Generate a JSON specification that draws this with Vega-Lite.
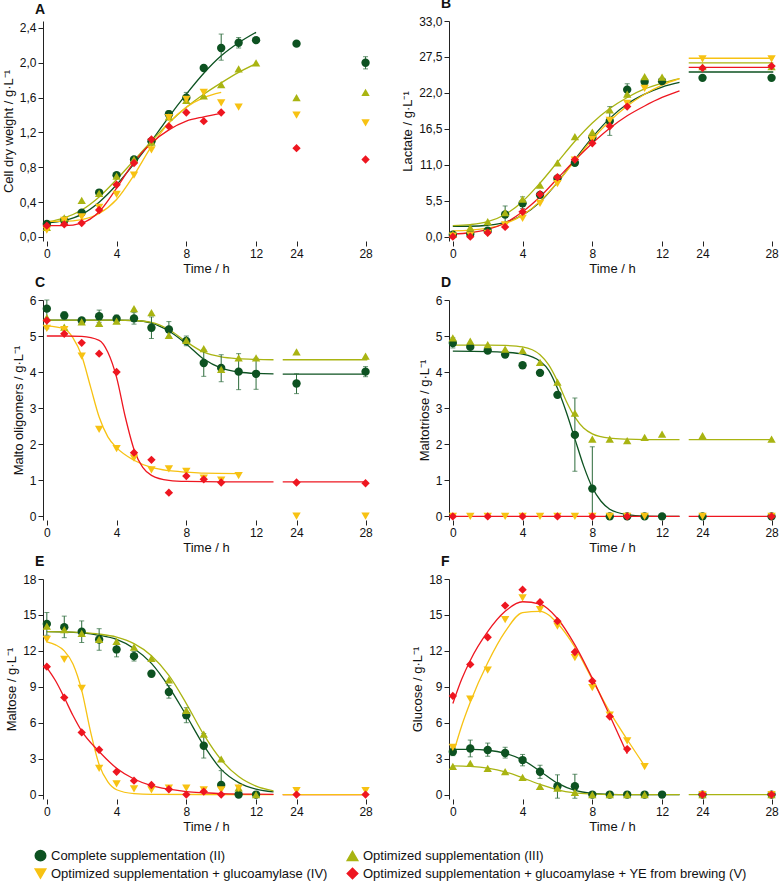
{
"$schema": "https://vega.github.io/schema/vega-lite/v6.json",
"padding": {"left": 2, "top": -3, "right": 0, "bottom": 0},
"config": {
  "font": "Liberation Sans",
  "view": {"stroke": null},
  "range": {"category": ["#0D5221", "#A9B412", "#F7C213", "#EE1620"], "symbol": ["circle", "triangle-up", "triangle-down", "diamond"]},
  "axis": {"domainColor": "#222", "tickColor": "#222", "labelColor": "#111", "titleColor": "#111", "labelFontSize": 12, "titleFontSize": 13, "titleFontWeight": "normal", "grid": false, "tickSize": 5},
  "axisX": {"titlePadding": 3},
  "legend": {"orient": "bottom", "offset": 16, "layout": {"bottom": {"anchor": "middle"}}, "direction": "horizontal", "columns": 2, "labelFontSize": 13, "labelLimit": 0, "symbolSize": 110, "columnPadding": 16, "rowPadding": 1, "labelColor": "#111"},
  "title": {"fontSize": 14, "fontWeight": "bold", "anchor": "start", "color": "#111", "dx": -8, "frame": "group", "offset": 0}
},
"datasets": {
"pts": [
{"p":"A","s":"II","t":0,"v":0.15},{"p":"A","s":"II","t":1,"v":0.19},{"p":"A","s":"II","t":2,"v":0.28},{"p":"A","s":"II","t":3,"v":0.51},{"p":"A","s":"II","t":4,"v":0.71},{"p":"A","s":"II","t":5,"v":0.89},{"p":"A","s":"II","t":6,"v":1.10},{"p":"A","s":"II","t":7,"v":1.41},{"p":"A","s":"II","t":8,"v":1.60},{"p":"A","s":"II","t":9,"v":1.94},{"p":"A","s":"II","t":10,"v":2.17},{"p":"A","s":"II","t":11,"v":2.23},{"p":"A","s":"II","t":12,"v":2.26},{"p":"A","s":"II","t":24,"v":2.22},{"p":"A","s":"II","t":28,"v":2.00},
{"p":"A","s":"III","t":0,"v":0.11},{"p":"A","s":"III","t":1,"v":0.22},{"p":"A","s":"III","t":2,"v":0.42},{"p":"A","s":"III","t":3,"v":0.50},{"p":"A","s":"III","t":4,"v":0.70},{"p":"A","s":"III","t":5,"v":0.89},{"p":"A","s":"III","t":6,"v":1.09},{"p":"A","s":"III","t":7,"v":1.38},{"p":"A","s":"III","t":8,"v":1.57},{"p":"A","s":"III","t":9,"v":1.62},{"p":"A","s":"III","t":10,"v":1.75},{"p":"A","s":"III","t":11,"v":1.93},{"p":"A","s":"III","t":12,"v":2.00},{"p":"A","s":"III","t":24,"v":1.60},{"p":"A","s":"III","t":28,"v":1.66},
{"p":"A","s":"IV","t":0,"v":0.08},{"p":"A","s":"IV","t":1,"v":0.19},{"p":"A","s":"IV","t":2,"v":0.23},{"p":"A","s":"IV","t":3,"v":0.34},{"p":"A","s":"IV","t":4,"v":0.49},{"p":"A","s":"IV","t":5,"v":0.71},{"p":"A","s":"IV","t":6,"v":1.00},{"p":"A","s":"IV","t":7,"v":1.37},{"p":"A","s":"IV","t":8,"v":1.58},{"p":"A","s":"IV","t":9,"v":1.66},{"p":"A","s":"IV","t":10,"v":1.54},{"p":"A","s":"IV","t":11,"v":1.49},{"p":"A","s":"IV","t":24,"v":1.40},{"p":"A","s":"IV","t":28,"v":1.31},
{"p":"A","s":"V","t":0,"v":0.13},{"p":"A","s":"V","t":1,"v":0.145},{"p":"A","s":"V","t":2,"v":0.16},{"p":"A","s":"V","t":3,"v":0.31},{"p":"A","s":"V","t":4,"v":0.60},{"p":"A","s":"V","t":5,"v":0.85},{"p":"A","s":"V","t":6,"v":1.12},{"p":"A","s":"V","t":7,"v":1.27},{"p":"A","s":"V","t":8,"v":1.43},{"p":"A","s":"V","t":9,"v":1.33},{"p":"A","s":"V","t":10,"v":1.43},{"p":"A","s":"V","t":24,"v":1.02},{"p":"A","s":"V","t":28,"v":0.89},
{"p":"B","s":"II","t":0,"v":0.3},{"p":"B","s":"II","t":1,"v":0.4},{"p":"B","s":"II","t":2,"v":0.9},{"p":"B","s":"II","t":3,"v":3.4},{"p":"B","s":"II","t":4,"v":5.1},{"p":"B","s":"II","t":5,"v":6.4},{"p":"B","s":"II","t":6,"v":8.9},{"p":"B","s":"II","t":7,"v":11.3},{"p":"B","s":"II","t":8,"v":15.2},{"p":"B","s":"II","t":9,"v":17.7},{"p":"B","s":"II","t":10,"v":22.5},{"p":"B","s":"II","t":11,"v":23.7},{"p":"B","s":"II","t":12,"v":23.8},{"p":"B","s":"II","t":24,"v":24.3},{"p":"B","s":"II","t":28,"v":24.3},
{"p":"B","s":"III","t":0,"v":0.4},{"p":"B","s":"III","t":1,"v":1.4},{"p":"B","s":"III","t":2,"v":2.3},{"p":"B","s":"III","t":3,"v":3.7},{"p":"B","s":"III","t":4,"v":5.75},{"p":"B","s":"III","t":5,"v":7.9},{"p":"B","s":"III","t":6,"v":11.3},{"p":"B","s":"III","t":7,"v":15.3},{"p":"B","s":"III","t":8,"v":16.0},{"p":"B","s":"III","t":9,"v":19.4},{"p":"B","s":"III","t":10,"v":21.8},{"p":"B","s":"III","t":11,"v":24.5},{"p":"B","s":"III","t":12,"v":24.4},{"p":"B","s":"III","t":24,"v":26.0},{"p":"B","s":"III","t":28,"v":26.0},
{"p":"B","s":"IV","t":0,"v":0.1},{"p":"B","s":"IV","t":1,"v":0.25},{"p":"B","s":"IV","t":2,"v":0.5},{"p":"B","s":"IV","t":3,"v":1.8},{"p":"B","s":"IV","t":4,"v":2.8},{"p":"B","s":"IV","t":5,"v":5.1},{"p":"B","s":"IV","t":6,"v":8.1},{"p":"B","s":"IV","t":7,"v":11.7},{"p":"B","s":"IV","t":8,"v":14.9},{"p":"B","s":"IV","t":9,"v":17.8},{"p":"B","s":"IV","t":10,"v":20.4},{"p":"B","s":"IV","t":11,"v":22.7},{"p":"B","s":"IV","t":24,"v":27.2},{"p":"B","s":"IV","t":28,"v":27.2},
{"p":"B","s":"V","t":0,"v":0.0},{"p":"B","s":"V","t":1,"v":0.0},{"p":"B","s":"V","t":2,"v":0.6},{"p":"B","s":"V","t":3,"v":1.5},{"p":"B","s":"V","t":4,"v":3.8},{"p":"B","s":"V","t":5,"v":6.5},{"p":"B","s":"V","t":6,"v":9.1},{"p":"B","s":"V","t":7,"v":11.8},{"p":"B","s":"V","t":8,"v":14.3},{"p":"B","s":"V","t":9,"v":16.9},{"p":"B","s":"V","t":10,"v":19.9},{"p":"B","s":"V","t":24,"v":25.8},{"p":"B","s":"V","t":28,"v":26.1},
{"p":"C","s":"II","t":0,"v":5.76},{"p":"C","s":"II","t":1,"v":5.57},{"p":"C","s":"II","t":2,"v":5.43},{"p":"C","s":"II","t":3,"v":5.55},{"p":"C","s":"II","t":4,"v":5.48},{"p":"C","s":"II","t":5,"v":5.49},{"p":"C","s":"II","t":6,"v":5.23},{"p":"C","s":"II","t":7,"v":5.18},{"p":"C","s":"II","t":8,"v":4.86},{"p":"C","s":"II","t":9,"v":4.25},{"p":"C","s":"II","t":10,"v":4.11},{"p":"C","s":"II","t":11,"v":4.01},{"p":"C","s":"II","t":12,"v":3.95},{"p":"C","s":"II","t":24,"v":3.68},{"p":"C","s":"II","t":28,"v":4.01},
{"p":"C","s":"III","t":0,"v":5.51},{"p":"C","s":"III","t":1,"v":5.25},{"p":"C","s":"III","t":2,"v":5.39},{"p":"C","s":"III","t":3,"v":5.35},{"p":"C","s":"III","t":4,"v":5.41},{"p":"C","s":"III","t":5,"v":5.76},{"p":"C","s":"III","t":6,"v":5.65},{"p":"C","s":"III","t":7,"v":5.02},{"p":"C","s":"III","t":8,"v":4.88},{"p":"C","s":"III","t":9,"v":4.65},{"p":"C","s":"III","t":10,"v":4.07},{"p":"C","s":"III","t":11,"v":4.39},{"p":"C","s":"III","t":12,"v":4.39},{"p":"C","s":"III","t":24,"v":4.56},{"p":"C","s":"III","t":28,"v":4.44},
{"p":"C","s":"IV","t":0,"v":5.21},{"p":"C","s":"IV","t":1,"v":5.18},{"p":"C","s":"IV","t":2,"v":4.44},{"p":"C","s":"IV","t":3,"v":2.41},{"p":"C","s":"IV","t":4,"v":1.87},{"p":"C","s":"IV","t":5,"v":1.61},{"p":"C","s":"IV","t":6,"v":1.28},{"p":"C","s":"IV","t":7,"v":1.31},{"p":"C","s":"IV","t":8,"v":1.24},{"p":"C","s":"IV","t":9,"v":1.05},{"p":"C","s":"IV","t":10,"v":1.0},{"p":"C","s":"IV","t":11,"v":1.12},{"p":"C","s":"IV","t":24,"v":0.0},{"p":"C","s":"IV","t":28,"v":0.0},
{"p":"C","s":"V","t":0,"v":5.43},{"p":"C","s":"V","t":1,"v":5.06},{"p":"C","s":"V","t":2,"v":4.81},{"p":"C","s":"V","t":3,"v":4.51},{"p":"C","s":"V","t":4,"v":4.0},{"p":"C","s":"V","t":5,"v":1.76},{"p":"C","s":"V","t":6,"v":1.56},{"p":"C","s":"V","t":7,"v":0.65},{"p":"C","s":"V","t":8,"v":1.11},{"p":"C","s":"V","t":9,"v":1.02},{"p":"C","s":"V","t":10,"v":0.93},{"p":"C","s":"V","t":24,"v":0.93},{"p":"C","s":"V","t":28,"v":0.91},
{"p":"D","s":"II","t":0,"v":4.81},{"p":"D","s":"II","t":1,"v":4.70},{"p":"D","s":"II","t":2,"v":4.60},{"p":"D","s":"II","t":3,"v":4.49},{"p":"D","s":"II","t":4,"v":4.19},{"p":"D","s":"II","t":5,"v":3.98},{"p":"D","s":"II","t":6,"v":3.37},{"p":"D","s":"II","t":7,"v":2.26},{"p":"D","s":"II","t":8,"v":0.77},{"p":"D","s":"II","t":9,"v":0},{"p":"D","s":"II","t":10,"v":0},{"p":"D","s":"II","t":11,"v":0},{"p":"D","s":"II","t":12,"v":0},{"p":"D","s":"II","t":24,"v":0},{"p":"D","s":"II","t":28,"v":0},
{"p":"D","s":"III","t":0,"v":4.95},{"p":"D","s":"III","t":1,"v":4.86},{"p":"D","s":"III","t":2,"v":4.76},{"p":"D","s":"III","t":3,"v":4.64},{"p":"D","s":"III","t":4,"v":4.60},{"p":"D","s":"III","t":5,"v":4.27},{"p":"D","s":"III","t":6,"v":3.72},{"p":"D","s":"III","t":7,"v":2.86},{"p":"D","s":"III","t":8,"v":2.14},{"p":"D","s":"III","t":9,"v":2.14},{"p":"D","s":"III","t":10,"v":2.10},{"p":"D","s":"III","t":11,"v":2.19},{"p":"D","s":"III","t":12,"v":2.28},{"p":"D","s":"III","t":24,"v":2.24},{"p":"D","s":"III","t":28,"v":2.14},
{"p":"D","s":"IV","t":0,"v":0},{"p":"D","s":"IV","t":1,"v":0},{"p":"D","s":"IV","t":2,"v":0},{"p":"D","s":"IV","t":3,"v":0},{"p":"D","s":"IV","t":4,"v":0},{"p":"D","s":"IV","t":5,"v":0},{"p":"D","s":"IV","t":6,"v":0},{"p":"D","s":"IV","t":7,"v":0},{"p":"D","s":"IV","t":8,"v":0},{"p":"D","s":"IV","t":9,"v":0},{"p":"D","s":"IV","t":10,"v":0},{"p":"D","s":"IV","t":11,"v":0},{"p":"D","s":"IV","t":24,"v":0},{"p":"D","s":"IV","t":28,"v":0},
{"p":"D","s":"V","t":0,"v":0},{"p":"D","s":"V","t":2,"v":0},{"p":"D","s":"V","t":4,"v":0},{"p":"D","s":"V","t":6,"v":0},{"p":"D","s":"V","t":8,"v":0},{"p":"D","s":"V","t":10,"v":0},{"p":"D","s":"V","t":28,"v":0},
{"p":"E","s":"II","t":0,"v":14.25},{"p":"E","s":"II","t":1,"v":13.98},{"p":"E","s":"II","t":2,"v":13.6},{"p":"E","s":"II","t":3,"v":12.95},{"p":"E","s":"II","t":4,"v":12.12},{"p":"E","s":"II","t":5,"v":11.56},{"p":"E","s":"II","t":6,"v":10.09},{"p":"E","s":"II","t":7,"v":8.57},{"p":"E","s":"II","t":8,"v":6.63},{"p":"E","s":"II","t":9,"v":4.08},{"p":"E","s":"II","t":10,"v":0.8},{"p":"E","s":"II","t":11,"v":0},{"p":"E","s":"II","t":12,"v":0},
{"p":"E","s":"III","t":0,"v":14.06},{"p":"E","s":"III","t":1,"v":13.78},{"p":"E","s":"III","t":2,"v":13.45},{"p":"E","s":"III","t":3,"v":12.95},{"p":"E","s":"III","t":4,"v":12.8},{"p":"E","s":"III","t":5,"v":12.31},{"p":"E","s":"III","t":6,"v":11.37},{"p":"E","s":"III","t":7,"v":9.57},{"p":"E","s":"III","t":8,"v":7.04},{"p":"E","s":"III","t":9,"v":5.05},{"p":"E","s":"III","t":10,"v":2.97},{"p":"E","s":"III","t":11,"v":0.55},{"p":"E","s":"III","t":12,"v":0},
{"p":"E","s":"IV","t":0,"v":12.95},{"p":"E","s":"IV","t":1,"v":11.29},{"p":"E","s":"IV","t":2,"v":8.87},{"p":"E","s":"IV","t":3,"v":2.19},{"p":"E","s":"IV","t":4,"v":0.89},{"p":"E","s":"IV","t":5,"v":0.47},{"p":"E","s":"IV","t":6,"v":0.39},{"p":"E","s":"IV","t":7,"v":0.53},{"p":"E","s":"IV","t":8,"v":0.53},{"p":"E","s":"IV","t":9,"v":0.39},{"p":"E","s":"IV","t":10,"v":0.39},{"p":"E","s":"IV","t":11,"v":0.53},{"p":"E","s":"IV","t":24,"v":0.33},{"p":"E","s":"IV","t":28,"v":0.33},
{"p":"E","s":"V","t":0,"v":10.68},{"p":"E","s":"V","t":1,"v":8.1},{"p":"E","s":"V","t":2,"v":5.19},{"p":"E","s":"V","t":3,"v":3.74},{"p":"E","s":"V","t":4,"v":1.91},{"p":"E","s":"V","t":5,"v":1.16},{"p":"E","s":"V","t":6,"v":0.8},{"p":"E","s":"V","t":7,"v":0.44},{"p":"E","s":"V","t":8,"v":0},{"p":"E","s":"V","t":9,"v":0.25},{"p":"E","s":"V","t":10,"v":0},{"p":"E","s":"V","t":24,"v":0},{"p":"E","s":"V","t":28,"v":0},
{"p":"F","s":"II","t":0,"v":3.58},{"p":"F","s":"II","t":1,"v":3.85},{"p":"F","s":"II","t":2,"v":3.72},{"p":"F","s":"II","t":3,"v":3.47},{"p":"F","s":"II","t":4,"v":2.88},{"p":"F","s":"II","t":5,"v":1.91},{"p":"F","s":"II","t":6,"v":0.69},{"p":"F","s":"II","t":7,"v":0.69},{"p":"F","s":"II","t":8,"v":0},{"p":"F","s":"II","t":9,"v":0},{"p":"F","s":"II","t":10,"v":0},{"p":"F","s":"II","t":11,"v":0},{"p":"F","s":"II","t":12,"v":0},{"p":"F","s":"II","t":24,"v":0},{"p":"F","s":"II","t":28,"v":0},
{"p":"F","s":"III","t":0,"v":2.36},{"p":"F","s":"III","t":1,"v":2.61},{"p":"F","s":"III","t":2,"v":2.19},{"p":"F","s":"III","t":3,"v":1.91},{"p":"F","s":"III","t":4,"v":1.44},{"p":"F","s":"III","t":5,"v":0.69},{"p":"F","s":"III","t":6,"v":0.53},{"p":"F","s":"III","t":7,"v":0.19},{"p":"F","s":"III","t":8,"v":0},{"p":"F","s":"III","t":9,"v":0},{"p":"F","s":"III","t":10,"v":0},{"p":"F","s":"III","t":11,"v":0},{"p":"F","s":"III","t":24,"v":0},{"p":"F","s":"III","t":28,"v":0},
{"p":"F","s":"IV","t":0,"v":3.94},{"p":"F","s":"IV","t":1,"v":7.96},{"p":"F","s":"IV","t":2,"v":10.4},{"p":"F","s":"IV","t":3,"v":14.61},{"p":"F","s":"IV","t":4,"v":16.42},{"p":"F","s":"IV","t":5,"v":15.45},{"p":"F","s":"IV","t":6,"v":14.06},{"p":"F","s":"IV","t":7,"v":11.43},{"p":"F","s":"IV","t":8,"v":8.93},{"p":"F","s":"IV","t":9,"v":6.63},{"p":"F","s":"IV","t":10,"v":4.49},{"p":"F","s":"IV","t":11,"v":2.33},{"p":"F","s":"IV","t":24,"v":0},{"p":"F","s":"IV","t":28,"v":0},
{"p":"F","s":"V","t":0,"v":8.24},{"p":"F","s":"V","t":1,"v":10.87},{"p":"F","s":"V","t":2,"v":13.14},{"p":"F","s":"V","t":3,"v":15.78},{"p":"F","s":"V","t":4,"v":17.11},{"p":"F","s":"V","t":5,"v":16.06},{"p":"F","s":"V","t":6,"v":14.48},{"p":"F","s":"V","t":7,"v":11.9},{"p":"F","s":"V","t":8,"v":9.48},{"p":"F","s":"V","t":9,"v":6.52},{"p":"F","s":"V","t":10,"v":3.8},{"p":"F","s":"V","t":24,"v":0},{"p":"F","s":"V","t":28,"v":0}
],
"err": [
{"p":"A","t":7,"lo":1.37,"hi":1.45},{"p":"A","t":8,"lo":1.55,"hi":1.66},{"p":"A","t":10,"lo":2.03,"hi":2.33},{"p":"A","t":11,"lo":2.17,"hi":2.29},{"p":"A","t":28,"lo":1.93,"hi":2.07},
{"p":"B","t":3,"lo":2.1,"hi":4.7},{"p":"B","t":4,"lo":4.3,"hi":6.1},{"p":"B","t":9,"lo":15.5,"hi":19.9},{"p":"B","t":10,"lo":21.7,"hi":23.4},{"p":"B","t":11,"lo":23.2,"hi":24.2},
{"p":"C","t":0,"lo":5.2,"hi":6.0},{"p":"C","t":1,"lo":5.47,"hi":5.67},{"p":"C","t":3,"lo":5.38,"hi":5.72},{"p":"C","t":4,"lo":5.38,"hi":5.58},{"p":"C","t":5,"lo":5.33,"hi":5.65},{"p":"C","t":6,"lo":4.93,"hi":5.53},{"p":"C","t":7,"lo":4.98,"hi":5.40},{"p":"C","t":8,"lo":4.73,"hi":5.0},{"p":"C","t":9,"lo":3.88,"hi":4.62},{"p":"C","t":10,"lo":3.73,"hi":4.48},{"p":"C","t":11,"lo":3.51,"hi":4.51},{"p":"C","t":12,"lo":3.52,"hi":4.38},{"p":"C","t":24,"lo":3.4,"hi":3.95},{"p":"C","t":28,"lo":3.87,"hi":4.15},
{"p":"D","t":0,"lo":4.67,"hi":4.95},{"p":"D","t":7,"lo":1.25,"hi":3.28},{"p":"D","t":8,"lo":0,"hi":1.93},
{"p":"E","t":0,"lo":13.3,"hi":15.2},{"p":"E","t":1,"lo":13.1,"hi":14.9},{"p":"E","t":2,"lo":12.7,"hi":14.5},{"p":"E","t":3,"lo":12.05,"hi":13.85},{"p":"E","t":4,"lo":11.5,"hi":12.7},{"p":"E","t":5,"lo":11.15,"hi":11.95},{"p":"E","t":6,"lo":9.85,"hi":10.35},{"p":"E","t":7,"lo":8.05,"hi":9.1},{"p":"E","t":8,"lo":6.0,"hi":7.25},{"p":"E","t":9,"lo":3.05,"hi":5.1},{"p":"E","t":10,"lo":0,"hi":2.0},
{"p":"F","t":0,"lo":3.25,"hi":3.9},{"p":"F","t":1,"lo":3.15,"hi":4.55},{"p":"F","t":2,"lo":3.2,"hi":4.3},{"p":"F","t":3,"lo":3.05,"hi":3.95},{"p":"F","t":4,"lo":2.4,"hi":3.35},{"p":"F","t":5,"lo":1.35,"hi":2.45},{"p":"F","t":6,"lo":-0.3,"hi":1.65},{"p":"F","t":7,"lo":-0.3,"hi":1.7}
],
"fit": [
{"p":"A","s":"II","g":"L","t":0,"v":0.16},{"p":"A","s":"II","g":"L","t":1,"v":0.19},{"p":"A","s":"II","g":"L","t":2,"v":0.26},{"p":"A","s":"II","g":"L","t":3,"v":0.40},{"p":"A","s":"II","g":"L","t":4,"v":0.60},{"p":"A","s":"II","g":"L","t":5,"v":0.84},{"p":"A","s":"II","g":"L","t":6,"v":1.10},{"p":"A","s":"II","g":"L","t":7,"v":1.38},{"p":"A","s":"II","g":"L","t":8,"v":1.64},{"p":"A","s":"II","g":"L","t":9,"v":1.88},{"p":"A","s":"II","g":"L","t":10,"v":2.08},{"p":"A","s":"II","g":"L","t":11,"v":2.23},{"p":"A","s":"II","g":"L","t":12,"v":2.35},
{"p":"A","s":"III","g":"L","t":0,"v":0.17},{"p":"A","s":"III","g":"L","t":1,"v":0.22},{"p":"A","s":"III","g":"L","t":2,"v":0.31},{"p":"A","s":"III","g":"L","t":3,"v":0.46},{"p":"A","s":"III","g":"L","t":4,"v":0.66},{"p":"A","s":"III","g":"L","t":5,"v":0.88},{"p":"A","s":"III","g":"L","t":6,"v":1.10},{"p":"A","s":"III","g":"L","t":7,"v":1.31},{"p":"A","s":"III","g":"L","t":8,"v":1.49},{"p":"A","s":"III","g":"L","t":9,"v":1.64},{"p":"A","s":"III","g":"L","t":10,"v":1.77},{"p":"A","s":"III","g":"L","t":11,"v":1.89},{"p":"A","s":"III","g":"L","t":12,"v":1.99},
{"p":"A","s":"IV","g":"L","t":0,"v":0.18},{"p":"A","s":"IV","g":"L","t":1,"v":0.18},{"p":"A","s":"IV","g":"L","t":2,"v":0.20},{"p":"A","s":"IV","g":"L","t":3,"v":0.27},{"p":"A","s":"IV","g":"L","t":4,"v":0.43},{"p":"A","s":"IV","g":"L","t":5,"v":0.71},{"p":"A","s":"IV","g":"L","t":6,"v":1.04},{"p":"A","s":"IV","g":"L","t":7,"v":1.31},{"p":"A","s":"IV","g":"L","t":8,"v":1.49},{"p":"A","s":"IV","g":"L","t":9,"v":1.60},{"p":"A","s":"IV","g":"L","t":10,"v":1.66},
{"p":"A","s":"V","g":"L","t":0,"v":0.13},{"p":"A","s":"V","g":"L","t":1,"v":0.13},{"p":"A","s":"V","g":"L","t":2,"v":0.16},{"p":"A","s":"V","g":"L","t":3,"v":0.29},{"p":"A","s":"V","g":"L","t":4,"v":0.56},{"p":"A","s":"V","g":"L","t":5,"v":0.86},{"p":"A","s":"V","g":"L","t":6,"v":1.08},{"p":"A","s":"V","g":"L","t":7,"v":1.23},{"p":"A","s":"V","g":"L","t":8,"v":1.33},{"p":"A","s":"V","g":"L","t":9,"v":1.38},{"p":"A","s":"V","g":"L","t":10,"v":1.42},
{"p":"B","s":"II","g":"L","t":0,"v":1.6},{"p":"B","s":"II","g":"L","t":1,"v":1.6},{"p":"B","s":"II","g":"L","t":2,"v":1.75},{"p":"B","s":"II","g":"L","t":3,"v":2.2},{"p":"B","s":"II","g":"L","t":4,"v":3.3},{"p":"B","s":"II","g":"L","t":5,"v":5.3},{"p":"B","s":"II","g":"L","t":6,"v":8.3},{"p":"B","s":"II","g":"L","t":7,"v":11.8},{"p":"B","s":"II","g":"L","t":8,"v":15.2},{"p":"B","s":"II","g":"L","t":9,"v":18.1},{"p":"B","s":"II","g":"L","t":10,"v":20.3},{"p":"B","s":"II","g":"L","t":11,"v":21.8},{"p":"B","s":"II","g":"L","t":12,"v":22.9},{"p":"B","s":"II","g":"L","t":13,"v":23.6},
{"p":"B","s":"III","g":"L","t":0,"v":1.7},{"p":"B","s":"III","g":"L","t":1,"v":1.85},{"p":"B","s":"III","g":"L","t":2,"v":2.3},{"p":"B","s":"III","g":"L","t":3,"v":3.4},{"p":"B","s":"III","g":"L","t":4,"v":5.4},{"p":"B","s":"III","g":"L","t":5,"v":8.2},{"p":"B","s":"III","g":"L","t":6,"v":11.4},{"p":"B","s":"III","g":"L","t":7,"v":14.6},{"p":"B","s":"III","g":"L","t":8,"v":17.4},{"p":"B","s":"III","g":"L","t":9,"v":19.6},{"p":"B","s":"III","g":"L","t":10,"v":21.3},{"p":"B","s":"III","g":"L","t":11,"v":22.6},{"p":"B","s":"III","g":"L","t":12,"v":23.5},{"p":"B","s":"III","g":"L","t":13,"v":24.2},
{"p":"B","s":"IV","g":"L","t":0,"v":0.9},{"p":"B","s":"IV","g":"L","t":1,"v":1.0},{"p":"B","s":"IV","g":"L","t":2,"v":1.3},{"p":"B","s":"IV","g":"L","t":3,"v":2.0},{"p":"B","s":"IV","g":"L","t":4,"v":3.3},{"p":"B","s":"IV","g":"L","t":5,"v":5.4},{"p":"B","s":"IV","g":"L","t":6,"v":8.3},{"p":"B","s":"IV","g":"L","t":7,"v":11.6},{"p":"B","s":"IV","g":"L","t":8,"v":14.9},{"p":"B","s":"IV","g":"L","t":9,"v":17.7},{"p":"B","s":"IV","g":"L","t":10,"v":20.0},{"p":"B","s":"IV","g":"L","t":11,"v":21.8},{"p":"B","s":"IV","g":"L","t":12,"v":23.2},{"p":"B","s":"IV","g":"L","t":13,"v":24.2},
{"p":"B","s":"V","g":"L","t":0,"v":0.4},{"p":"B","s":"V","g":"L","t":1,"v":0.6},{"p":"B","s":"V","g":"L","t":2,"v":1.1},{"p":"B","s":"V","g":"L","t":3,"v":2.1},{"p":"B","s":"V","g":"L","t":4,"v":3.8},{"p":"B","s":"V","g":"L","t":5,"v":6.1},{"p":"B","s":"V","g":"L","t":6,"v":8.9},{"p":"B","s":"V","g":"L","t":7,"v":11.7},{"p":"B","s":"V","g":"L","t":8,"v":14.3},{"p":"B","s":"V","g":"L","t":9,"v":16.6},{"p":"B","s":"V","g":"L","t":10,"v":18.5},{"p":"B","s":"V","g":"L","t":11,"v":20.0},{"p":"B","s":"V","g":"L","t":12,"v":21.3},{"p":"B","s":"V","g":"L","t":13,"v":22.3},
{"p":"B","s":"II","g":"R","t":23.2,"v":25.2},{"p":"B","s":"II","g":"R","t":28.1,"v":25.2},{"p":"B","s":"III","g":"R","t":23.2,"v":26.6},{"p":"B","s":"III","g":"R","t":28.1,"v":26.6},{"p":"B","s":"IV","g":"R","t":23.2,"v":27.3},{"p":"B","s":"IV","g":"R","t":28.1,"v":27.3},{"p":"B","s":"V","g":"R","t":23.2,"v":25.9},{"p":"B","s":"V","g":"R","t":28.1,"v":25.9},
{"p":"C","s":"II","g":"L","t":0,"v":5.44},{"p":"C","s":"II","g":"L","t":2,"v":5.44},{"p":"C","s":"II","g":"L","t":4,"v":5.44},{"p":"C","s":"II","g":"L","t":5,"v":5.43},{"p":"C","s":"II","g":"L","t":6,"v":5.36},{"p":"C","s":"II","g":"L","t":7,"v":5.14},{"p":"C","s":"II","g":"L","t":8,"v":4.78},{"p":"C","s":"II","g":"L","t":9,"v":4.36},{"p":"C","s":"II","g":"L","t":10,"v":4.11},{"p":"C","s":"II","g":"L","t":11,"v":4.0},{"p":"C","s":"II","g":"L","t":12,"v":3.96},{"p":"C","s":"II","g":"L","t":13,"v":3.95},
{"p":"C","s":"III","g":"L","t":0,"v":5.44},{"p":"C","s":"III","g":"L","t":2,"v":5.44},{"p":"C","s":"III","g":"L","t":4,"v":5.44},{"p":"C","s":"III","g":"L","t":5,"v":5.43},{"p":"C","s":"III","g":"L","t":6,"v":5.38},{"p":"C","s":"III","g":"L","t":7,"v":5.18},{"p":"C","s":"III","g":"L","t":8,"v":4.84},{"p":"C","s":"III","g":"L","t":9,"v":4.55},{"p":"C","s":"III","g":"L","t":10,"v":4.42},{"p":"C","s":"III","g":"L","t":11,"v":4.37},{"p":"C","s":"III","g":"L","t":12,"v":4.35},{"p":"C","s":"III","g":"L","t":13,"v":4.34},
{"p":"C","s":"IV","g":"L","t":0,"v":5.28},{"p":"C","s":"IV","g":"L","t":1,"v":5.2},{"p":"C","s":"IV","g":"L","t":1.5,"v":4.95},{"p":"C","s":"IV","g":"L","t":2,"v":4.45},{"p":"C","s":"IV","g":"L","t":2.5,"v":3.6},{"p":"C","s":"IV","g":"L","t":3,"v":2.75},{"p":"C","s":"IV","g":"L","t":3.5,"v":2.2},{"p":"C","s":"IV","g":"L","t":4,"v":1.9},{"p":"C","s":"IV","g":"L","t":5,"v":1.55},{"p":"C","s":"IV","g":"L","t":6,"v":1.35},{"p":"C","s":"IV","g":"L","t":7,"v":1.26},{"p":"C","s":"IV","g":"L","t":8,"v":1.22},{"p":"C","s":"IV","g":"L","t":9,"v":1.19},{"p":"C","s":"IV","g":"L","t":11,"v":1.18},
{"p":"C","s":"V","g":"L","t":0,"v":5.0},{"p":"C","s":"V","g":"L","t":1,"v":5.0},{"p":"C","s":"V","g":"L","t":2,"v":4.99},{"p":"C","s":"V","g":"L","t":3,"v":4.88},{"p":"C","s":"V","g":"L","t":3.5,"v":4.55},{"p":"C","s":"V","g":"L","t":4,"v":3.85},{"p":"C","s":"V","g":"L","t":4.5,"v":2.75},{"p":"C","s":"V","g":"L","t":5,"v":1.85},{"p":"C","s":"V","g":"L","t":5.5,"v":1.35},{"p":"C","s":"V","g":"L","t":6,"v":1.13},{"p":"C","s":"V","g":"L","t":7,"v":0.99},{"p":"C","s":"V","g":"L","t":8,"v":0.96},{"p":"C","s":"V","g":"L","t":10,"v":0.95},{"p":"C","s":"V","g":"L","t":13,"v":0.95},
{"p":"C","s":"II","g":"R","t":23.2,"v":3.94},{"p":"C","s":"II","g":"R","t":28.1,"v":3.94},{"p":"C","s":"III","g":"R","t":23.2,"v":4.34},{"p":"C","s":"III","g":"R","t":28.1,"v":4.34},{"p":"C","s":"V","g":"R","t":23.2,"v":0.95},{"p":"C","s":"V","g":"R","t":28.1,"v":0.95},
{"p":"D","s":"II","g":"L","t":0,"v":4.58},{"p":"D","s":"II","g":"L","t":2,"v":4.57},{"p":"D","s":"II","g":"L","t":3,"v":4.55},{"p":"D","s":"II","g":"L","t":4,"v":4.5},{"p":"D","s":"II","g":"L","t":5,"v":4.3},{"p":"D","s":"II","g":"L","t":5.5,"v":4.05},{"p":"D","s":"II","g":"L","t":6,"v":3.55},{"p":"D","s":"II","g":"L","t":6.5,"v":2.9},{"p":"D","s":"II","g":"L","t":7,"v":2.15},{"p":"D","s":"II","g":"L","t":7.5,"v":1.4},{"p":"D","s":"II","g":"L","t":8,"v":0.8},{"p":"D","s":"II","g":"L","t":8.5,"v":0.42},{"p":"D","s":"II","g":"L","t":9,"v":0.2},{"p":"D","s":"II","g":"L","t":10,"v":0.05},{"p":"D","s":"II","g":"L","t":11,"v":0.01},{"p":"D","s":"II","g":"L","t":13,"v":0},
{"p":"D","s":"III","g":"L","t":0,"v":4.75},{"p":"D","s":"III","g":"L","t":2,"v":4.75},{"p":"D","s":"III","g":"L","t":3,"v":4.74},{"p":"D","s":"III","g":"L","t":4,"v":4.7},{"p":"D","s":"III","g":"L","t":5,"v":4.48},{"p":"D","s":"III","g":"L","t":5.5,"v":4.2},{"p":"D","s":"III","g":"L","t":6,"v":3.75},{"p":"D","s":"III","g":"L","t":6.5,"v":3.2},{"p":"D","s":"III","g":"L","t":7,"v":2.75},{"p":"D","s":"III","g":"L","t":7.5,"v":2.45},{"p":"D","s":"III","g":"L","t":8,"v":2.29},{"p":"D","s":"III","g":"L","t":9,"v":2.17},{"p":"D","s":"III","g":"L","t":10,"v":2.14},{"p":"D","s":"III","g":"L","t":11,"v":2.13},{"p":"D","s":"III","g":"L","t":13,"v":2.13},
{"p":"D","s":"V","g":"L","t":0,"v":0},{"p":"D","s":"V","g":"L","t":13,"v":0},
{"p":"D","s":"III","g":"R","t":23.2,"v":2.13},{"p":"D","s":"III","g":"R","t":28.1,"v":2.13},{"p":"D","s":"V","g":"R","t":23.2,"v":0},{"p":"D","s":"V","g":"R","t":28.1,"v":0},
{"p":"E","s":"II","g":"L","t":0,"v":13.6},{"p":"E","s":"II","g":"L","t":1,"v":13.58},{"p":"E","s":"II","g":"L","t":2,"v":13.5},{"p":"E","s":"II","g":"L","t":3,"v":13.3},{"p":"E","s":"II","g":"L","t":4,"v":12.95},{"p":"E","s":"II","g":"L","t":5,"v":12.2},{"p":"E","s":"II","g":"L","t":6,"v":10.95},{"p":"E","s":"II","g":"L","t":7,"v":9.0},{"p":"E","s":"II","g":"L","t":8,"v":6.6},{"p":"E","s":"II","g":"L","t":9,"v":4.1},{"p":"E","s":"II","g":"L","t":10,"v":2.1},{"p":"E","s":"II","g":"L","t":11,"v":1.0},{"p":"E","s":"II","g":"L","t":12,"v":0.45},{"p":"E","s":"II","g":"L","t":13,"v":0.22},
{"p":"E","s":"III","g":"L","t":0,"v":13.6},{"p":"E","s":"III","g":"L","t":1,"v":13.58},{"p":"E","s":"III","g":"L","t":2,"v":13.52},{"p":"E","s":"III","g":"L","t":3,"v":13.4},{"p":"E","s":"III","g":"L","t":4,"v":13.15},{"p":"E","s":"III","g":"L","t":5,"v":12.6},{"p":"E","s":"III","g":"L","t":6,"v":11.6},{"p":"E","s":"III","g":"L","t":7,"v":9.95},{"p":"E","s":"III","g":"L","t":8,"v":7.6},{"p":"E","s":"III","g":"L","t":9,"v":5.0},{"p":"E","s":"III","g":"L","t":10,"v":2.9},{"p":"E","s":"III","g":"L","t":11,"v":1.5},{"p":"E","s":"III","g":"L","t":12,"v":0.7},{"p":"E","s":"III","g":"L","t":13,"v":0.3},
{"p":"E","s":"IV","g":"L","t":0,"v":12.75},{"p":"E","s":"IV","g":"L","t":0.5,"v":12.5},{"p":"E","s":"IV","g":"L","t":1,"v":12.0},{"p":"E","s":"IV","g":"L","t":1.5,"v":10.9},{"p":"E","s":"IV","g":"L","t":2,"v":8.7},{"p":"E","s":"IV","g":"L","t":2.5,"v":5.3},{"p":"E","s":"IV","g":"L","t":3,"v":2.5},{"p":"E","s":"IV","g":"L","t":3.5,"v":1.05},{"p":"E","s":"IV","g":"L","t":4,"v":0.4},{"p":"E","s":"IV","g":"L","t":5,"v":0.08},{"p":"E","s":"IV","g":"L","t":6,"v":0.02},{"p":"E","s":"IV","g":"L","t":13,"v":0},
{"p":"E","s":"V","g":"L","t":0,"v":10.6},{"p":"E","s":"V","g":"L","t":0.5,"v":9.5},{"p":"E","s":"V","g":"L","t":1,"v":8.1},{"p":"E","s":"V","g":"L","t":1.5,"v":6.6},{"p":"E","s":"V","g":"L","t":2,"v":5.3},{"p":"E","s":"V","g":"L","t":3,"v":3.6},{"p":"E","s":"V","g":"L","t":4,"v":2.2},{"p":"E","s":"V","g":"L","t":5,"v":1.3},{"p":"E","s":"V","g":"L","t":6,"v":0.75},{"p":"E","s":"V","g":"L","t":7,"v":0.45},{"p":"E","s":"V","g":"L","t":8,"v":0.25},{"p":"E","s":"V","g":"L","t":9,"v":0.15},{"p":"E","s":"V","g":"L","t":10,"v":0.08},{"p":"E","s":"V","g":"L","t":13,"v":0.02},
{"p":"E","s":"V","g":"R","t":23.2,"v":0},{"p":"E","s":"V","g":"R","t":28.1,"v":0},{"p":"E","s":"IV","g":"R","t":23.2,"v":0},{"p":"E","s":"IV","g":"R","t":28.1,"v":0},
{"p":"F","s":"II","g":"L","t":0,"v":3.78},{"p":"F","s":"II","g":"L","t":1,"v":3.77},{"p":"F","s":"II","g":"L","t":2,"v":3.7},{"p":"F","s":"II","g":"L","t":3,"v":3.45},{"p":"F","s":"II","g":"L","t":4,"v":2.9},{"p":"F","s":"II","g":"L","t":5,"v":1.95},{"p":"F","s":"II","g":"L","t":6,"v":0.95},{"p":"F","s":"II","g":"L","t":7,"v":0.35},{"p":"F","s":"II","g":"L","t":8,"v":0.1},{"p":"F","s":"II","g":"L","t":9,"v":0.02},{"p":"F","s":"II","g":"L","t":10,"v":0},{"p":"F","s":"II","g":"L","t":13,"v":0},
{"p":"F","s":"III","g":"L","t":0,"v":2.4},{"p":"F","s":"III","g":"L","t":1,"v":2.35},{"p":"F","s":"III","g":"L","t":2,"v":2.2},{"p":"F","s":"III","g":"L","t":3,"v":1.9},{"p":"F","s":"III","g":"L","t":4,"v":1.4},{"p":"F","s":"III","g":"L","t":5,"v":0.85},{"p":"F","s":"III","g":"L","t":6,"v":0.4},{"p":"F","s":"III","g":"L","t":7,"v":0.15},{"p":"F","s":"III","g":"L","t":8,"v":0.05},{"p":"F","s":"III","g":"L","t":9,"v":0},{"p":"F","s":"III","g":"L","t":13,"v":0},
{"p":"F","s":"IV","g":"L","t":0,"v":3.3},{"p":"F","s":"IV","g":"L","t":0.5,"v":5.7},{"p":"F","s":"IV","g":"L","t":1,"v":7.7},{"p":"F","s":"IV","g":"L","t":2,"v":11.0},{"p":"F","s":"IV","g":"L","t":3,"v":13.6},{"p":"F","s":"IV","g":"L","t":4,"v":15.2},{"p":"F","s":"IV","g":"L","t":5,"v":15.3},{"p":"F","s":"IV","g":"L","t":6,"v":14.3},{"p":"F","s":"IV","g":"L","t":7,"v":12.3},{"p":"F","s":"IV","g":"L","t":8,"v":9.6},{"p":"F","s":"IV","g":"L","t":9,"v":6.9},{"p":"F","s":"IV","g":"L","t":10,"v":4.6},{"p":"F","s":"IV","g":"L","t":11,"v":2.4},
{"p":"F","s":"V","g":"L","t":0,"v":7.6},{"p":"F","s":"V","g":"L","t":0.5,"v":9.6},{"p":"F","s":"V","g":"L","t":1,"v":11.2},{"p":"F","s":"V","g":"L","t":2,"v":13.6},{"p":"F","s":"V","g":"L","t":3,"v":15.3},{"p":"F","s":"V","g":"L","t":4,"v":16.1},{"p":"F","s":"V","g":"L","t":5,"v":15.9},{"p":"F","s":"V","g":"L","t":6,"v":14.7},{"p":"F","s":"V","g":"L","t":7,"v":12.5},{"p":"F","s":"V","g":"L","t":8,"v":9.7},{"p":"F","s":"V","g":"L","t":9,"v":6.6},{"p":"F","s":"V","g":"L","t":10,"v":3.4},
{"p":"F","s":"III","g":"R","t":23.2,"v":0},{"p":"F","s":"III","g":"R","t":28.1,"v":0}
]
},
"concat": [
{
 "width": 326, "height": 220,
 "title": {"text": "A"},
 "encoding": {
  "x": {"field": "t", "type": "quantitative", "scale": {"domain": [-0.22, 13, 23.1, 28.2], "range": [0, 230.5, 238, 326], "nice": false, "zero": false}, "axis": {"values": [0, 4, 8, 12, 24, 28], "title": "Time / h", "domain": false, "labelFlush": false}},
  "y": {"field": "v", "type": "quantitative", "scale": {"domain": [-0.046, 2.48], "nice": false, "zero": false}, "axis": {"values": [0, 0.4, 0.8, 1.2, 1.6, 2.0, 2.4], "title": "Cell dry weight / g·L⁻¹", "labelExpr": "replace(format(datum.value, '.1f'), '.', ',')"}},
  "color": {"field": "s", "type": "nominal", "title": null, "scale": {"domain": ["II", "III", "IV", "V"]}, "legend": {"labelExpr": "datum.label == 'II' ? 'Complete supplementation (II)' : datum.label == 'III' ? 'Optimized supplementation (III)' : datum.label == 'IV' ? 'Optimized supplementation + glucoamylase (IV)' : 'Optimized supplementation + glucoamylase + YE from brewing (V)'"}}
 },
 "layer": [
  {"data": {"name": "fit"}, "transform": [{"filter": "datum.p == 'A'"}], "mark": {"type": "line", "interpolate": "monotone", "strokeWidth": 1.3}, "encoding": {"detail": {"field": "g"}}},
  {"data": {"name": "err"}, "transform": [{"filter": "datum.p == 'A'"}], "mark": {"type": "errorbar", "ticks": true, "color": "#2B6A3A"}, "encoding": {"y": {"field": "lo", "type": "quantitative", "axis": {"values": [0, 0.4, 0.8, 1.2, 1.6, 2.0, 2.4], "title": "Cell dry weight / g·L⁻¹", "labelExpr": "replace(format(datum.value, '.1f'), '.', ',')"}}, "y2": {"field": "hi"}, "color": {"value": "#2B6A3A"}}},
  {"data": {"name": "pts"}, "transform": [{"filter": "datum.p == 'A'"}], "mark": {"type": "point", "filled": true, "opacity": 1, "size": 70}, "encoding": {"shape": {"field": "s", "type": "nominal", "title": null, "scale": {"domain": ["II", "III", "IV", "V"]}, "legend": {"labelExpr": "datum.label == 'II' ? 'Complete supplementation (II)' : datum.label == 'III' ? 'Optimized supplementation (III)' : datum.label == 'IV' ? 'Optimized supplementation + glucoamylase (IV)' : 'Optimized supplementation + glucoamylase + YE from brewing (V)'"}}}},
  {"data": {"values": [{}]}, "mark": {"type": "rule", "strokeWidth": 1}, "encoding": {"x": {"datum": -0.22}, "x2": {"datum": 13}, "y": {"datum": -0.046}, "color": {"value": "#222"}}},
  {"data": {"values": [{}]}, "mark": {"type": "rule", "strokeWidth": 1}, "encoding": {"x": {"datum": 23.1}, "x2": {"datum": 28.2}, "y": {"datum": -0.046}, "color": {"value": "#222"}}},
  {"data": {"values": [{}]}, "mark": {"type": "text", "text": "//", "fontSize": 13, "baseline": "middle"}, "encoding": {"x": {"datum": 18}, "y": {"datum": -0.046}, "color": {"value": "#222"}}}
 ]
},
{
 "width": 326, "height": 220,
 "title": {"text": "B"},
 "encoding": {
  "x": {"field": "t", "type": "quantitative", "scale": {"domain": [-0.22, 13, 23.1, 28.2], "range": [0, 230.5, 238, 326], "nice": false, "zero": false}, "axis": {"values": [0, 4, 8, 12, 24, 28], "title": "Time / h", "domain": false, "labelFlush": false}},
  "y": {"field": "v", "type": "quantitative", "scale": {"domain": [-0.66, 33], "nice": false, "zero": false}, "axis": {"values": [0, 5.5, 11, 16.5, 22, 27.5, 33], "title": "Lactate / g·L⁻¹", "labelExpr": "replace(format(datum.value, '.1f'), '.', ',')"}},
  "color": {"field": "s", "type": "nominal", "title": null, "scale": {"domain": ["II", "III", "IV", "V"]}, "legend": {"labelExpr": "datum.label == 'II' ? 'Complete supplementation (II)' : datum.label == 'III' ? 'Optimized supplementation (III)' : datum.label == 'IV' ? 'Optimized supplementation + glucoamylase (IV)' : 'Optimized supplementation + glucoamylase + YE from brewing (V)'"}}
 },
 "layer": [
  {"data": {"name": "fit"}, "transform": [{"filter": "datum.p == 'B'"}], "mark": {"type": "line", "interpolate": "monotone", "strokeWidth": 1.3}, "encoding": {"detail": {"field": "g"}}},
  {"data": {"name": "err"}, "transform": [{"filter": "datum.p == 'B'"}], "mark": {"type": "errorbar", "ticks": true, "color": "#2B6A3A"}, "encoding": {"y": {"field": "lo", "type": "quantitative", "axis": {"values": [0, 5.5, 11, 16.5, 22, 27.5, 33], "title": "Lactate / g·L⁻¹", "labelExpr": "replace(format(datum.value, '.1f'), '.', ',')"}}, "y2": {"field": "hi"}, "color": {"value": "#2B6A3A"}}},
  {"data": {"name": "pts"}, "transform": [{"filter": "datum.p == 'B'"}], "mark": {"type": "point", "filled": true, "opacity": 1, "size": 70}, "encoding": {"shape": {"field": "s", "type": "nominal", "title": null, "scale": {"domain": ["II", "III", "IV", "V"]}, "legend": {"labelExpr": "datum.label == 'II' ? 'Complete supplementation (II)' : datum.label == 'III' ? 'Optimized supplementation (III)' : datum.label == 'IV' ? 'Optimized supplementation + glucoamylase (IV)' : 'Optimized supplementation + glucoamylase + YE from brewing (V)'"}}}},
  {"data": {"values": [{}]}, "mark": {"type": "rule", "strokeWidth": 1}, "encoding": {"x": {"datum": -0.22}, "x2": {"datum": 13}, "y": {"datum": -0.66}, "color": {"value": "#222"}}},
  {"data": {"values": [{}]}, "mark": {"type": "rule", "strokeWidth": 1}, "encoding": {"x": {"datum": 23.1}, "x2": {"datum": 28.2}, "y": {"datum": -0.66}, "color": {"value": "#222"}}},
  {"data": {"values": [{}]}, "mark": {"type": "text", "text": "//", "fontSize": 13, "baseline": "middle"}, "encoding": {"x": {"datum": 18}, "y": {"datum": -0.66}, "color": {"value": "#222"}}}
 ]
},
{
 "width": 326, "height": 220,
 "title": {"text": "C"},
 "encoding": {
  "x": {"field": "t", "type": "quantitative", "scale": {"domain": [-0.22, 13, 23.1, 28.2], "range": [0, 230.5, 238, 326], "nice": false, "zero": false}, "axis": {"values": [0, 4, 8, 12, 24, 28], "title": "Time / h", "domain": false, "labelFlush": false}},
  "y": {"field": "v", "type": "quantitative", "scale": {"domain": [-0.11, 6], "nice": false, "zero": false}, "axis": {"values": [0, 1, 2, 3, 4, 5, 6], "title": "Malto oligomers / g·L⁻¹"}},
  "color": {"field": "s", "type": "nominal", "title": null, "scale": {"domain": ["II", "III", "IV", "V"]}, "legend": {"labelExpr": "datum.label == 'II' ? 'Complete supplementation (II)' : datum.label == 'III' ? 'Optimized supplementation (III)' : datum.label == 'IV' ? 'Optimized supplementation + glucoamylase (IV)' : 'Optimized supplementation + glucoamylase + YE from brewing (V)'"}}
 },
 "layer": [
  {"data": {"name": "fit"}, "transform": [{"filter": "datum.p == 'C'"}], "mark": {"type": "line", "interpolate": "monotone", "strokeWidth": 1.3}, "encoding": {"detail": {"field": "g"}}},
  {"data": {"name": "err"}, "transform": [{"filter": "datum.p == 'C'"}], "mark": {"type": "errorbar", "ticks": true, "color": "#2B6A3A"}, "encoding": {"y": {"field": "lo", "type": "quantitative", "axis": {"values": [0, 1, 2, 3, 4, 5, 6], "title": "Malto oligomers / g·L⁻¹"}}, "y2": {"field": "hi"}, "color": {"value": "#2B6A3A"}}},
  {"data": {"name": "pts"}, "transform": [{"filter": "datum.p == 'C'"}], "mark": {"type": "point", "filled": true, "opacity": 1, "size": 70}, "encoding": {"shape": {"field": "s", "type": "nominal", "title": null, "scale": {"domain": ["II", "III", "IV", "V"]}, "legend": {"labelExpr": "datum.label == 'II' ? 'Complete supplementation (II)' : datum.label == 'III' ? 'Optimized supplementation (III)' : datum.label == 'IV' ? 'Optimized supplementation + glucoamylase (IV)' : 'Optimized supplementation + glucoamylase + YE from brewing (V)'"}}}},
  {"data": {"values": [{}]}, "mark": {"type": "rule", "strokeWidth": 1}, "encoding": {"x": {"datum": -0.22}, "x2": {"datum": 13}, "y": {"datum": -0.11}, "color": {"value": "#222"}}},
  {"data": {"values": [{}]}, "mark": {"type": "rule", "strokeWidth": 1}, "encoding": {"x": {"datum": 23.1}, "x2": {"datum": 28.2}, "y": {"datum": -0.11}, "color": {"value": "#222"}}},
  {"data": {"values": [{}]}, "mark": {"type": "text", "text": "//", "fontSize": 13, "baseline": "middle"}, "encoding": {"x": {"datum": 18}, "y": {"datum": -0.11}, "color": {"value": "#222"}}}
 ]
},
{
 "width": 326, "height": 220,
 "title": {"text": "D"},
 "encoding": {
  "x": {"field": "t", "type": "quantitative", "scale": {"domain": [-0.22, 13, 23.1, 28.2], "range": [0, 230.5, 238, 326], "nice": false, "zero": false}, "axis": {"values": [0, 4, 8, 12, 24, 28], "title": "Time / h", "domain": false, "labelFlush": false}},
  "y": {"field": "v", "type": "quantitative", "scale": {"domain": [-0.1, 6], "nice": false, "zero": false}, "axis": {"values": [0, 1, 2, 3, 4, 5, 6], "title": "Maltotriose / g·L⁻¹"}},
  "color": {"field": "s", "type": "nominal", "title": null, "scale": {"domain": ["II", "III", "IV", "V"]}, "legend": {"labelExpr": "datum.label == 'II' ? 'Complete supplementation (II)' : datum.label == 'III' ? 'Optimized supplementation (III)' : datum.label == 'IV' ? 'Optimized supplementation + glucoamylase (IV)' : 'Optimized supplementation + glucoamylase + YE from brewing (V)'"}}
 },
 "layer": [
  {"data": {"name": "fit"}, "transform": [{"filter": "datum.p == 'D'"}], "mark": {"type": "line", "interpolate": "monotone", "strokeWidth": 1.3}, "encoding": {"detail": {"field": "g"}}},
  {"data": {"name": "err"}, "transform": [{"filter": "datum.p == 'D'"}], "mark": {"type": "errorbar", "ticks": true, "color": "#2B6A3A"}, "encoding": {"y": {"field": "lo", "type": "quantitative", "axis": {"values": [0, 1, 2, 3, 4, 5, 6], "title": "Maltotriose / g·L⁻¹"}}, "y2": {"field": "hi"}, "color": {"value": "#2B6A3A"}}},
  {"data": {"name": "pts"}, "transform": [{"filter": "datum.p == 'D'"}], "mark": {"type": "point", "filled": true, "opacity": 1, "size": 70}, "encoding": {"shape": {"field": "s", "type": "nominal", "title": null, "scale": {"domain": ["II", "III", "IV", "V"]}, "legend": {"labelExpr": "datum.label == 'II' ? 'Complete supplementation (II)' : datum.label == 'III' ? 'Optimized supplementation (III)' : datum.label == 'IV' ? 'Optimized supplementation + glucoamylase (IV)' : 'Optimized supplementation + glucoamylase + YE from brewing (V)'"}}}},
  {"data": {"values": [{}]}, "mark": {"type": "rule", "strokeWidth": 1}, "encoding": {"x": {"datum": -0.22}, "x2": {"datum": 13}, "y": {"datum": -0.1}, "color": {"value": "#222"}}},
  {"data": {"values": [{}]}, "mark": {"type": "rule", "strokeWidth": 1}, "encoding": {"x": {"datum": 23.1}, "x2": {"datum": 28.2}, "y": {"datum": -0.1}, "color": {"value": "#222"}}},
  {"data": {"values": [{}]}, "mark": {"type": "text", "text": "//", "fontSize": 13, "baseline": "middle"}, "encoding": {"x": {"datum": 18}, "y": {"datum": -0.1}, "color": {"value": "#222"}}}
 ]
},
{
 "width": 326, "height": 220,
 "title": {"text": "E"},
 "encoding": {
  "x": {"field": "t", "type": "quantitative", "scale": {"domain": [-0.22, 13, 23.1, 28.2], "range": [0, 230.5, 238, 326], "nice": false, "zero": false}, "axis": {"values": [0, 4, 8, 12, 24, 28], "title": "Time / h", "domain": false, "labelFlush": false}},
  "y": {"field": "v", "type": "quantitative", "scale": {"domain": [-0.37, 18], "nice": false, "zero": false}, "axis": {"values": [0, 3, 6, 9, 12, 15, 18], "title": "Maltose / g·L⁻¹"}},
  "color": {"field": "s", "type": "nominal", "title": null, "scale": {"domain": ["II", "III", "IV", "V"]}, "legend": {"labelExpr": "datum.label == 'II' ? 'Complete supplementation (II)' : datum.label == 'III' ? 'Optimized supplementation (III)' : datum.label == 'IV' ? 'Optimized supplementation + glucoamylase (IV)' : 'Optimized supplementation + glucoamylase + YE from brewing (V)'"}}
 },
 "layer": [
  {"data": {"name": "fit"}, "transform": [{"filter": "datum.p == 'E'"}], "mark": {"type": "line", "interpolate": "monotone", "strokeWidth": 1.3}, "encoding": {"detail": {"field": "g"}}},
  {"data": {"name": "err"}, "transform": [{"filter": "datum.p == 'E'"}], "mark": {"type": "errorbar", "ticks": true, "color": "#2B6A3A"}, "encoding": {"y": {"field": "lo", "type": "quantitative", "axis": {"values": [0, 3, 6, 9, 12, 15, 18], "title": "Maltose / g·L⁻¹"}}, "y2": {"field": "hi"}, "color": {"value": "#2B6A3A"}}},
  {"data": {"name": "pts"}, "transform": [{"filter": "datum.p == 'E'"}], "mark": {"type": "point", "filled": true, "opacity": 1, "size": 70}, "encoding": {"shape": {"field": "s", "type": "nominal", "title": null, "scale": {"domain": ["II", "III", "IV", "V"]}, "legend": {"labelExpr": "datum.label == 'II' ? 'Complete supplementation (II)' : datum.label == 'III' ? 'Optimized supplementation (III)' : datum.label == 'IV' ? 'Optimized supplementation + glucoamylase (IV)' : 'Optimized supplementation + glucoamylase + YE from brewing (V)'"}}}},
  {"data": {"values": [{}]}, "mark": {"type": "rule", "strokeWidth": 1}, "encoding": {"x": {"datum": -0.22}, "x2": {"datum": 13}, "y": {"datum": -0.37}, "color": {"value": "#222"}}},
  {"data": {"values": [{}]}, "mark": {"type": "rule", "strokeWidth": 1}, "encoding": {"x": {"datum": 23.1}, "x2": {"datum": 28.2}, "y": {"datum": -0.37}, "color": {"value": "#222"}}},
  {"data": {"values": [{}]}, "mark": {"type": "text", "text": "//", "fontSize": 13, "baseline": "middle"}, "encoding": {"x": {"datum": 18}, "y": {"datum": -0.37}, "color": {"value": "#222"}}}
 ]
},
{
 "width": 326, "height": 220,
 "title": {"text": "F"},
 "encoding": {
  "x": {"field": "t", "type": "quantitative", "scale": {"domain": [-0.22, 13, 23.1, 28.2], "range": [0, 230.5, 238, 326], "nice": false, "zero": false}, "axis": {"values": [0, 4, 8, 12, 24, 28], "title": "Time / h", "domain": false, "labelFlush": false}},
  "y": {"field": "v", "type": "quantitative", "scale": {"domain": [-0.37, 18], "nice": false, "zero": false}, "axis": {"values": [0, 3, 6, 9, 12, 15, 18], "title": "Glucose / g·L⁻¹"}},
  "color": {"field": "s", "type": "nominal", "title": null, "scale": {"domain": ["II", "III", "IV", "V"]}, "legend": {"labelExpr": "datum.label == 'II' ? 'Complete supplementation (II)' : datum.label == 'III' ? 'Optimized supplementation (III)' : datum.label == 'IV' ? 'Optimized supplementation + glucoamylase (IV)' : 'Optimized supplementation + glucoamylase + YE from brewing (V)'"}}
 },
 "layer": [
  {"data": {"name": "fit"}, "transform": [{"filter": "datum.p == 'F'"}], "mark": {"type": "line", "interpolate": "monotone", "strokeWidth": 1.3}, "encoding": {"detail": {"field": "g"}}},
  {"data": {"name": "err"}, "transform": [{"filter": "datum.p == 'F'"}], "mark": {"type": "errorbar", "ticks": true, "color": "#2B6A3A"}, "encoding": {"y": {"field": "lo", "type": "quantitative", "axis": {"values": [0, 3, 6, 9, 12, 15, 18], "title": "Glucose / g·L⁻¹"}}, "y2": {"field": "hi"}, "color": {"value": "#2B6A3A"}}},
  {"data": {"name": "pts"}, "transform": [{"filter": "datum.p == 'F'"}], "mark": {"type": "point", "filled": true, "opacity": 1, "size": 70}, "encoding": {"shape": {"field": "s", "type": "nominal", "title": null, "scale": {"domain": ["II", "III", "IV", "V"]}, "legend": {"labelExpr": "datum.label == 'II' ? 'Complete supplementation (II)' : datum.label == 'III' ? 'Optimized supplementation (III)' : datum.label == 'IV' ? 'Optimized supplementation + glucoamylase (IV)' : 'Optimized supplementation + glucoamylase + YE from brewing (V)'"}}}},
  {"data": {"values": [{}]}, "mark": {"type": "rule", "strokeWidth": 1}, "encoding": {"x": {"datum": -0.22}, "x2": {"datum": 13}, "y": {"datum": -0.37}, "color": {"value": "#222"}}},
  {"data": {"values": [{}]}, "mark": {"type": "rule", "strokeWidth": 1}, "encoding": {"x": {"datum": 23.1}, "x2": {"datum": 28.2}, "y": {"datum": -0.37}, "color": {"value": "#222"}}},
  {"data": {"values": [{}]}, "mark": {"type": "text", "text": "//", "fontSize": 13, "baseline": "middle"}, "encoding": {"x": {"datum": 18}, "y": {"datum": -0.37}, "color": {"value": "#222"}}}
 ]
}
],
"columns": 2,
"spacing": {"row": 1, "column": 28}
}
